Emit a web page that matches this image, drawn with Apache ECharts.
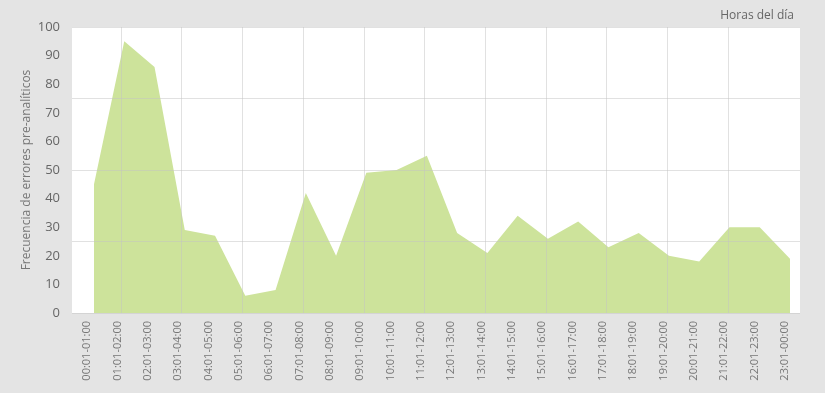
<!DOCTYPE html>
<html>
<head>
<meta charset="utf-8">
<script src="https://cdn.jsdelivr.net/npm/echarts@6/dist/echarts.min.js"></script>
<style>
html,body{margin:0;padding:0;background:#e4e4e4;}
#chart{width:825px;height:393px;}
</style>
</head>
<body>
<div id="chart"></div>
<script>
const categories = ["00:01-01:00","01:01-02:00","02:01-03:00","03:01-04:00","04:01-05:00","05:01-06:00","06:01-07:00","07:01-08:00","08:01-09:00","09:01-10:00","10:01-11:00","11:01-12:00","12:01-13:00","13:01-14:00","14:01-15:00","15:01-16:00","16:01-17:00","17:01-18:00","18:01-19:00","19:01-20:00","20:01-21:00","21:01-22:00","22:01-23:00","23:01-00:00"];
const values = [45, 95, 86, 29, 27, 6, 8, 42, 20, 49, 50, 55, 28, 21, 34, 26, 32, 23, 28, 20, 18, 30, 30, 19];
const yTicks = [0,10,20,30,40,50,60,70,80,90,100];
const yAxisName = "Frecuencia de errores pre-analíticos";
const xAxisName = "Horas del día";

const FONT = "'Open Sans', sans-serif";
const chart = echarts.init(document.getElementById('chart'), null, {renderer:'canvas'});
chart.setOption({
  backgroundColor: '#e4e4e4',
  animation: false,
  title: {
    text: xAxisName, right: 26, top: 5,
    textStyle: {fontFamily: FONT, fontSize: 12, fontWeight: 'normal', color: '#666'}
  },
  grid: [
    {left: 72, right: 25, top: 27, bottom: 80, show: true, backgroundColor: '#ffffff', borderWidth: 0},
    {left: 121, right: 97, top: 27, bottom: 80},
    {left: 94, right: 35, top: 27, bottom: 80}
  ],
  xAxis: [
    {gridIndex: 0, type: 'category', data: categories, boundaryGap: true,
     axisLine: {show: false}, axisTick: {show: false}, splitLine: {show: false},
     axisLabel: {rotate: 90, interval: 0, margin: 8, fontFamily: FONT, fontSize: 11, color: '#777'}},
    {gridIndex: 1, type: 'value', min: 0, max: 10, interval: 1, z: 5,
     axisLine: {show: false}, axisTick: {show: false}, axisLabel: {show: false},
     splitLine: {show: true, lineStyle: {color: 'rgba(195,195,195,0.5)', width: 1}}},
    {gridIndex: 2, type: 'category', data: categories, boundaryGap: false, show: false}
  ],
  yAxis: [
    {gridIndex: 0, type: 'value', min: 0, max: 100, interval: 10,
     name: yAxisName, nameLocation: 'middle', nameGap: 39, nameRotate: 90, nameMoveOverlap: false,
     nameTextStyle: {fontFamily: FONT, fontSize: 12, color: '#777'},
     axisLine: {show: false}, axisTick: {show: false}, splitLine: {show: false},
     axisLabel: {margin: 12, fontFamily: FONT, fontSize: 13, color: '#666',
       formatter: function(v){ return yTicks.indexOf(v) >= 0 ? String(v) : ''; }}},
    {gridIndex: 0, type: 'value', min: 0, max: 100, interval: 25, z: 5,
     axisLine: {show: false}, axisTick: {show: false}, axisLabel: {show: false},
     splitLine: {show: true, lineStyle: {color: 'rgba(195,195,195,0.5)', width: 1}}},
    {gridIndex: 1, type: 'value', min: 0, max: 100, show: false, splitLine: {show: false}},
    {gridIndex: 2, type: 'value', min: 0, max: 100, show: false, splitLine: {show: false}}
  ],
  series: [{
    type: 'line', xAxisIndex: 2, yAxisIndex: 3, data: values,
    symbol: 'none', lineStyle: {width: 0}, areaStyle: {color: '#cde39b', opacity: 1}
  }]
});
</script>
</body>
</html>
